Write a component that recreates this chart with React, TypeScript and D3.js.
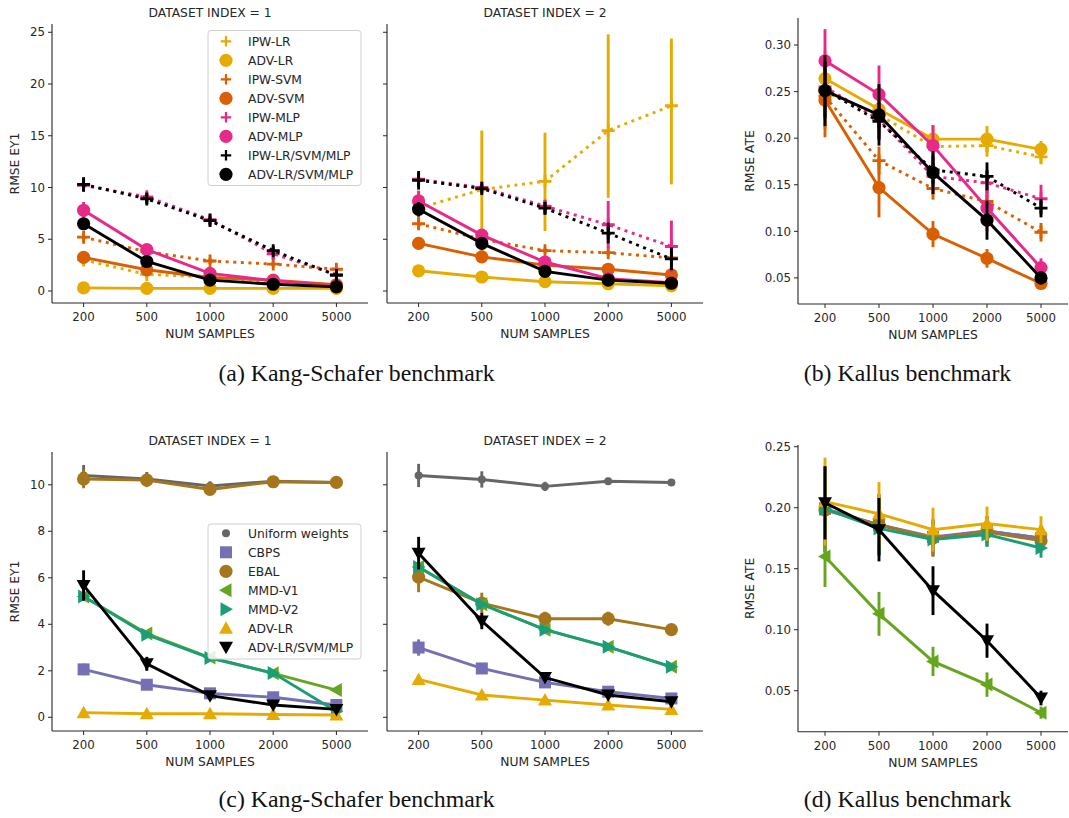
import React from 'react';
import * as d3 from 'd3';

// ---------- categories & ticks ----------
const SAMPLES = ['200', '500', '1000', '2000', '5000'];
const TICKS_A = [0, 5, 10, 15, 20, 25];
const TICKS_B = [0.05, 0.1, 0.15, 0.2, 0.25, 0.3];
const TICKS_C = [0, 2, 4, 6, 8, 10];
const TICKS_D = [0.05, 0.1, 0.15, 0.2, 0.25];

// ---------- panel (a), dataset 1 ----------
const A1_IPW_LR = [3.0, 1.6, 1.35, 0.9, 0.5];
const A1_IPW_LR_ERR = [0.4, 0.3, 0.2, 0.15, 0.1];
const A1_ADV_LR = [0.3, 0.25, 0.25, 0.25, 0.25];
const A1_ADV_LR_ERR = [0.1, 0.05, 0.05, 0.05, 0.05];
const A1_IPW_SVM = [5.2, 3.8, 2.9, 2.6, 2.1];
const A1_IPW_SVM_ERR = [0.4, 0.3, 0.3, 0.3, 0.2];
const A1_ADV_SVM = [3.25, 2.05, 1.3, 1.05, 0.6];
const A1_ADV_SVM_ERR = [0.3, 0.2, 0.1, 0.1, 0.05];
const A1_IPW_MLP = [10.2, 9.1, 6.9, 3.6, 1.6];
const A1_IPW_MLP_ERR = [0.5, 0.4, 0.4, 0.5, 0.3];
const A1_ADV_MLP = [7.8, 4.0, 1.7, 1.0, 0.5];
const A1_ADV_MLP_ERR = [0.8, 0.4, 0.2, 0.1, 0.05];
const A1_IPW_ALL = [10.3, 8.9, 6.8, 3.9, 1.5];
const A1_IPW_ALL_ERR = [0.7, 0.5, 0.4, 0.4, 0.5];
const A1_ADV_ALL = [6.5, 2.85, 1.05, 0.65, 0.4];
const A1_ADV_ALL_ERR = [0.5, 0.3, 0.1, 0.1, 0.05];

// ---------- panel (a), dataset 2 ----------
const A2_IPW_LR = [8.0, 9.8, 10.6, 15.5, 17.9];
const A2_IPW_LR_LO = [6.8, 3.5, 5.8, 9.0, 10.3];
const A2_IPW_LR_HI = [9.2, 15.5, 15.3, 24.8, 24.4];
const A2_ADV_LR = [1.95, 1.35, 0.9, 0.7, 0.5];
const A2_ADV_LR_ERR = [0.15, 0.1, 0.05, 0.05, 0.05];
const A2_IPW_SVM = [6.5, 5.0, 3.9, 3.7, 3.2];
const A2_IPW_SVM_ERR = [0.5, 0.4, 0.3, 0.3, 0.2];
const A2_ADV_SVM = [4.6, 3.3, 2.5, 2.1, 1.55];
const A2_ADV_SVM_ERR = [0.3, 0.2, 0.15, 0.1, 0.1];
const A2_IPW_MLP = [10.8, 10.0, 8.2, 6.4, 4.3];
const A2_IPW_MLP_ERR = [0.5, 0.5, 0.6, 2.3, 2.5];
const A2_ADV_MLP = [8.7, 5.4, 2.8, 1.2, 0.8];
const A2_ADV_MLP_ERR = [1.0, 0.4, 0.2, 0.1, 0.05];
const A2_IPW_ALL = [10.7, 9.9, 8.0, 5.6, 3.1];
const A2_IPW_ALL_ERR = [0.9, 0.4, 0.6, 1.0, 1.1];
const A2_ADV_ALL = [7.9, 4.6, 1.9, 1.05, 0.75];
const A2_ADV_ALL_ERR = [0.7, 0.3, 0.15, 0.1, 0.05];

// ---------- panel (b) ----------
const B_IPW_LR = [0.25, 0.225, 0.191, 0.192, 0.18];
const B_IPW_LR_ERR = [0.03, 0.02, 0.015, 0.012, 0.008];
const B_ADV_LR = [0.264, 0.231, 0.199, 0.199, 0.188];
const B_ADV_LR_ERR = [0.03, 0.025, 0.015, 0.014, 0.009];
const B_IPW_SVM = [0.245, 0.176, 0.146, 0.132, 0.099];
const B_IPW_SVM_ERR = [0.035, 0.015, 0.012, 0.012, 0.01];
const B_ADV_SVM = [0.241, 0.147, 0.097, 0.071, 0.044];
const B_ADV_SVM_ERR = [0.04, 0.032, 0.014, 0.01, 0.006];
const B_IPW_MLP = [0.255, 0.22, 0.159, 0.152, 0.135];
const B_IPW_MLP_ERR = [0.03, 0.02, 0.015, 0.012, 0.015];
const B_ADV_MLP = [0.283, 0.247, 0.192, 0.125, 0.061];
const B_ADV_MLP_ERR = [0.034, 0.031, 0.022, 0.025, 0.01];
const B_IPW_ALL = [0.252, 0.218, 0.166, 0.159, 0.125];
const B_IPW_ALL_ERR = [0.03, 0.02, 0.015, 0.015, 0.01];
const B_ADV_ALL = [0.251, 0.225, 0.163, 0.112, 0.05];
const B_ADV_ALL_ERR = [0.038, 0.033, 0.023, 0.021, 0.007];

// ---------- panel (c), dataset 1 ----------
const C1_UNIF = [10.4, 10.25, 9.95, 10.15, 10.1];
const C1_UNIF_ERR = [0.45, 0.3, 0.2, 0.1, 0.05];
const C1_CBPS = [2.06, 1.4, 1.03, 0.86, 0.53];
const C1_CBPS_ERR = [0.25, 0.15, 0.1, 0.08, 0.05];
const C1_EBAL = [10.25, 10.2, 9.8, 10.13, 10.1];
const C1_EBAL_ERR = [0.4, 0.3, 0.15, 0.1, 0.05];
const C1_MMD1 = [5.2, 3.6, 2.57, 1.89, 1.17];
const C1_MMD1_ERR = [0.2, 0.1, 0.08, 0.06, 0.05];
const C1_MMD2 = [5.2, 3.55, 2.55, 1.9, 0.25];
const C1_MMD2_ERR = [0.2, 0.1, 0.08, 0.06, 0.05];
const C1_ADV_LR = [0.2, 0.15, 0.15, 0.12, 0.1];
const C1_ADV_LR_ERR = [0.05, 0.03, 0.03, 0.03, 0.02];
const C1_ADV_ALL = [5.67, 2.3, 0.93, 0.53, 0.34];
const C1_ADV_ALL_ERR = [0.65, 0.3, 0.1, 0.05, 0.04];

// ---------- panel (c), dataset 2 ----------
const C2_UNIF = [10.4, 10.23, 9.93, 10.15, 10.1];
const C2_UNIF_ERR = [0.5, 0.35, 0.2, 0.15, 0.05];
const C2_CBPS = [3.0, 2.1, 1.5, 1.1, 0.81];
const C2_CBPS_ERR = [0.35, 0.2, 0.15, 0.1, 0.08];
const C2_EBAL = [6.03, 4.91, 4.24, 4.24, 3.77];
const C2_EBAL_ERR = [0.65, 0.45, 0.3, 0.3, 0.2];
const C2_MMD1 = [6.46, 4.86, 3.77, 3.03, 2.17];
const C2_MMD1_ERR = [0.2, 0.15, 0.1, 0.08, 0.08];
const C2_MMD2 = [6.46, 4.86, 3.77, 3.03, 2.17];
const C2_MMD2_ERR = [0.2, 0.15, 0.1, 0.08, 0.08];
const C2_ADV_LR = [1.63, 0.96, 0.74, 0.53, 0.34];
const C2_ADV_LR_ERR = [0.15, 0.08, 0.05, 0.04, 0.03];
const C2_ADV_ALL = [7.06, 4.14, 1.71, 0.96, 0.67];
const C2_ADV_ALL_ERR = [0.7, 0.35, 0.15, 0.1, 0.08];

// ---------- panel (d) ----------
const D_UNIF = [0.199, 0.186, 0.175, 0.181, 0.175];
const D_UNIF_ERR = [0.035, 0.025, 0.015, 0.012, 0.01];
const D_CBPS = [0.199, 0.186, 0.176, 0.181, 0.175];
const D_CBPS_ERR = [0.035, 0.025, 0.015, 0.012, 0.01];
const D_EBAL = [0.198, 0.186, 0.175, 0.18, 0.173];
const D_EBAL_ERR = [0.035, 0.025, 0.015, 0.012, 0.01];
const D_MMD1 = [0.16, 0.113, 0.074, 0.055, 0.032];
const D_MMD1_ERR = [0.025, 0.018, 0.012, 0.01, 0.005];
const D_MMD2 = [0.199, 0.183, 0.174, 0.178, 0.167];
const D_MMD2_ERR = [0.03, 0.022, 0.01, 0.01, 0.008];
const D_ADV_LR = [0.205, 0.195, 0.182, 0.187, 0.182];
const D_ADV_LR_ERR = [0.036, 0.026, 0.018, 0.014, 0.011];
const D_ADV_ALL = [0.204, 0.182, 0.132, 0.091, 0.044];
const D_ADV_ALL_ERR = [0.03, 0.026, 0.02, 0.014, 0.006];

// ---------- styles ----------
const GOLD = '#e6ab02';
const ORANGE = '#d95f02';
const PINK = '#e7298a';
const BLACK = '#000000';
const GRAY = '#666666';
const PURPLE = '#7570b3';
const BROWN = '#a6761d';
const GREEN = '#66a61e';
const TEAL = '#1b9e77';
const TEXT = '#262626';
const FONT = 'DejaVu Sans, Verdana, sans-serif';
const SERIF = 'Liberation Serif, Times New Roman, serif';

type Marker = 'plus' | 'circle' | 'dot' | 'square' | 'tleft' | 'tright' | 'tup' | 'tdown';
interface Style { name: string; color: string; marker: Marker; dotted: boolean }

const TOP_STYLES: Style[] = [
  { name: 'IPW-LR', color: GOLD, marker: 'plus', dotted: true },
  { name: 'ADV-LR', color: GOLD, marker: 'circle', dotted: false },
  { name: 'IPW-SVM', color: ORANGE, marker: 'plus', dotted: true },
  { name: 'ADV-SVM', color: ORANGE, marker: 'circle', dotted: false },
  { name: 'IPW-MLP', color: PINK, marker: 'plus', dotted: true },
  { name: 'ADV-MLP', color: PINK, marker: 'circle', dotted: false },
  { name: 'IPW-LR/SVM/MLP', color: BLACK, marker: 'plus', dotted: true },
  { name: 'ADV-LR/SVM/MLP', color: BLACK, marker: 'circle', dotted: false },
];
const BOTTOM_STYLES: Style[] = [
  { name: 'Uniform weights', color: GRAY, marker: 'dot', dotted: false },
  { name: 'CBPS', color: PURPLE, marker: 'square', dotted: false },
  { name: 'EBAL', color: BROWN, marker: 'circle', dotted: false },
  { name: 'MMD-V1', color: GREEN, marker: 'tleft', dotted: false },
  { name: 'MMD-V2', color: TEAL, marker: 'tright', dotted: false },
  { name: 'ADV-LR', color: GOLD, marker: 'tup', dotted: false },
  { name: 'ADV-LR/SVM/MLP', color: BLACK, marker: 'tdown', dotted: false },
];

interface SeriesData { mean: number[]; lo: number[]; hi: number[] }
const sym = (mean: number[], err: number[]): SeriesData => ({
  mean,
  lo: mean.map((m, i) => m - err[i]),
  hi: mean.map((m, i) => m + err[i]),
});

const A1 = [
  sym(A1_IPW_LR, A1_IPW_LR_ERR), sym(A1_ADV_LR, A1_ADV_LR_ERR),
  sym(A1_IPW_SVM, A1_IPW_SVM_ERR), sym(A1_ADV_SVM, A1_ADV_SVM_ERR),
  sym(A1_IPW_MLP, A1_IPW_MLP_ERR), sym(A1_ADV_MLP, A1_ADV_MLP_ERR),
  sym(A1_IPW_ALL, A1_IPW_ALL_ERR), sym(A1_ADV_ALL, A1_ADV_ALL_ERR),
];
const A2 = [
  { mean: A2_IPW_LR, lo: A2_IPW_LR_LO, hi: A2_IPW_LR_HI }, sym(A2_ADV_LR, A2_ADV_LR_ERR),
  sym(A2_IPW_SVM, A2_IPW_SVM_ERR), sym(A2_ADV_SVM, A2_ADV_SVM_ERR),
  sym(A2_IPW_MLP, A2_IPW_MLP_ERR), sym(A2_ADV_MLP, A2_ADV_MLP_ERR),
  sym(A2_IPW_ALL, A2_IPW_ALL_ERR), sym(A2_ADV_ALL, A2_ADV_ALL_ERR),
];
const B = [
  sym(B_IPW_LR, B_IPW_LR_ERR), sym(B_ADV_LR, B_ADV_LR_ERR),
  sym(B_IPW_SVM, B_IPW_SVM_ERR), sym(B_ADV_SVM, B_ADV_SVM_ERR),
  sym(B_IPW_MLP, B_IPW_MLP_ERR), sym(B_ADV_MLP, B_ADV_MLP_ERR),
  sym(B_IPW_ALL, B_IPW_ALL_ERR), sym(B_ADV_ALL, B_ADV_ALL_ERR),
];
const C1 = [
  sym(C1_UNIF, C1_UNIF_ERR), sym(C1_CBPS, C1_CBPS_ERR), sym(C1_EBAL, C1_EBAL_ERR),
  sym(C1_MMD1, C1_MMD1_ERR), sym(C1_MMD2, C1_MMD2_ERR), sym(C1_ADV_LR, C1_ADV_LR_ERR),
  sym(C1_ADV_ALL, C1_ADV_ALL_ERR),
];
const C2 = [
  sym(C2_UNIF, C2_UNIF_ERR), sym(C2_CBPS, C2_CBPS_ERR), sym(C2_EBAL, C2_EBAL_ERR),
  sym(C2_MMD1, C2_MMD1_ERR), sym(C2_MMD2, C2_MMD2_ERR), sym(C2_ADV_LR, C2_ADV_LR_ERR),
  sym(C2_ADV_ALL, C2_ADV_ALL_ERR),
];
const D = [
  sym(D_UNIF, D_UNIF_ERR), sym(D_CBPS, D_CBPS_ERR), sym(D_EBAL, D_EBAL_ERR),
  sym(D_MMD1, D_MMD1_ERR), sym(D_MMD2, D_MMD2_ERR), sym(D_ADV_LR, D_ADV_LR_ERR),
  sym(D_ADV_ALL, D_ADV_ALL_ERR),
];

function MarkerShape({ m, color, x, y, scale = 1 }: { m: Marker; color: string; x: number; y: number; scale?: number }) {
  const t = `translate(${x},${y}) scale(${scale})`;
  switch (m) {
    case 'plus':
      return <path transform={t} d="M-6.5,0H6.5M0,-6.5V6.5" stroke={color} strokeWidth={2.8} fill="none" />;
    case 'circle':
      return <circle transform={t} r={6.6} fill={color} />;
    case 'dot':
      return <circle transform={t} r={4} fill={color} />;
    case 'square':
      return <rect transform={t} x={-6} y={-6} width={12} height={12} fill={color} />;
    case 'tup':
      return <path transform={t} d="M0,-7L7,5.5L-7,5.5Z" fill={color} />;
    case 'tdown':
      return <path transform={t} d="M0,7L7,-5.5L-7,-5.5Z" fill={color} />;
    case 'tleft':
      return <path transform={t} d="M-7,0L5.5,-7L5.5,7Z" fill={color} />;
    case 'tright':
      return <path transform={t} d="M7,0L-5.5,-7L-5.5,7Z" fill={color} />;
  }
  return null;
}

interface PanelProps {
  xL: number; xR: number; yT: number; yB: number;
  domain: [number, number]; ticks: number[]; fmt: (v: number) => string;
  showTickLabels: boolean; title?: string; ylabel?: string; ylabelX?: number;
  styles: Style[]; data: SeriesData[];
}

function Panel(p: PanelProps) {
  const x = d3.scalePoint<string>().domain(SAMPLES).range([p.xL, p.xR]).padding(0.5);
  const y = d3.scaleLinear().domain(p.domain).range([p.yB, p.yT]);
  const line = d3.line<number>().x((_, i) => x(SAMPLES[i]) as number).y((d) => y(d));
  return (
    <g>
      {p.title && (
        <text x={(p.xL + p.xR) / 2} y={p.yT - 7} textAnchor="middle" fontSize={12.3} fill={TEXT} fontFamily={FONT}>
          {p.title}
        </text>
      )}
      {p.styles.map((s, k) => {
        const d = p.data[k];
        return (
          <g key={s.name + k}>
            <path d={line(d.mean) as string} fill="none" stroke={s.color} strokeWidth={2.9}
              strokeDasharray={s.dotted ? '3,4.6' : undefined} />
            {d.mean.map((_, i) => (
              <line key={i} x1={x(SAMPLES[i])} x2={x(SAMPLES[i])} y1={y(d.lo[i])} y2={y(d.hi[i])}
                stroke={s.color} strokeWidth={2.9} />
            ))}
            {d.mean.map((v, i) => (
              <MarkerShape key={'m' + i} m={s.marker} color={s.color} x={x(SAMPLES[i]) as number} y={y(v)} />
            ))}
          </g>
        );
      })}
      <line x1={p.xL} x2={p.xL} y1={p.yT} y2={p.yB} stroke={TEXT} strokeWidth={1.1} />
      <line x1={p.xL} x2={p.xR} y1={p.yB} y2={p.yB} stroke={TEXT} strokeWidth={1.1} />
      {p.ticks.map((t) => (
        <g key={t}>
          <line x1={p.xL - 4} x2={p.xL} y1={y(t)} y2={y(t)} stroke={TEXT} strokeWidth={1} />
          {p.showTickLabels && (
            <text x={p.xL - 7} y={y(t) + 4.2} textAnchor="end" fontSize={11.8} fill={TEXT} fontFamily={FONT}>
              {p.fmt(t)}
            </text>
          )}
        </g>
      ))}
      {SAMPLES.map((c) => (
        <g key={c}>
          <line x1={x(c)} x2={x(c)} y1={p.yB} y2={p.yB + 4} stroke={TEXT} strokeWidth={1} />
          <text x={x(c)} y={p.yB + 18} textAnchor="middle" fontSize={11.8} fill={TEXT} fontFamily={FONT}>
            {c}
          </text>
        </g>
      ))}
      <text x={(p.xL + p.xR) / 2} y={p.yB + 35} textAnchor="middle" fontSize={12.3} fill={TEXT} fontFamily={FONT}>
        NUM SAMPLES
      </text>
      {p.ylabel && (
        <text transform={`translate(${p.ylabelX},${(p.yT + p.yB) / 2}) rotate(-90)`} textAnchor="middle"
          fontSize={12.3} fill={TEXT} fontFamily={FONT}>
          {p.ylabel}
        </text>
      )}
    </g>
  );
}

function Legend({ x0, y0, w, h, styles, firstY }: { x0: number; y0: number; w: number; h: number; styles: Style[]; firstY: number }) {
  return (
    <g>
      <rect x={x0} y={y0} width={w} height={h} rx={3} fill="#ffffff" fillOpacity={0.85} stroke="#d0d0d0" strokeWidth={1} />
      {styles.map((s, i) => {
        const yy = firstY + i * 19;
        return (
          <g key={s.name}>
            <MarkerShape m={s.marker} color={s.color} x={x0 + 18} y={yy} scale={s.marker === 'plus' ? 0.8 : 1} />
            <text x={x0 + 40} y={yy + 4.3} fontSize={12.3} fill={TEXT} fontFamily={FONT}>{s.name}</text>
          </g>
        );
      })}
    </g>
  );
}

const f0 = (v: number) => d3.format('d')(v);
const f2 = (v: number) => d3.format('.2f')(v);

export default function App() {
  return (
    <svg width={1069} height={818} style={{ position: 'absolute', left: 0, top: 0, background: '#fff' }}>
      <rect x={0} y={0} width={1069} height={818} fill="#fff" />
      <Panel xL={52} xR={368} yT={24} yB={303} domain={[-1.16, 25.8]} ticks={TICKS_A} fmt={f0}
        showTickLabels title="DATASET INDEX = 1" ylabel="RMSE EY1" ylabelX={18.5} styles={TOP_STYLES} data={A1} />
      <Panel xL={387} xR={703} yT={24} yB={303} domain={[-1.16, 25.8]} ticks={TICKS_A} fmt={f0}
        showTickLabels={false} title="DATASET INDEX = 2" styles={TOP_STYLES} data={A2} />
      <Panel xL={798} xR={1068} yT={18} yB={304} domain={[0.022, 0.329]} ticks={TICKS_B} fmt={f2}
        showTickLabels ylabel="RMSE ATE" ylabelX={753.5} styles={TOP_STYLES} data={B} />
      <Legend x0={208} y0={30.5} w={153} h={155} styles={TOP_STYLES} firstY={41.3} />

      <Panel xL={52} xR={368} yT={452} yB={731} domain={[-0.59, 11.41]} ticks={TICKS_C} fmt={f0}
        showTickLabels title="DATASET INDEX = 1" ylabel="RMSE EY1" ylabelX={18.5} styles={BOTTOM_STYLES} data={C1} />
      <Panel xL={387} xR={703} yT={452} yB={731} domain={[-0.59, 11.41]} ticks={TICKS_C} fmt={f0}
        showTickLabels={false} title="DATASET INDEX = 2" styles={BOTTOM_STYLES} data={C2} />
      <Panel xL={798} xR={1068} yT={445} yB={731.7} domain={[0.0164, 0.2514]} ticks={TICKS_D} fmt={f2}
        showTickLabels ylabel="RMSE ATE" ylabelX={753.5} styles={BOTTOM_STYLES} data={D} />
      <Legend x0={208} y0={524} w={153} h={135} styles={BOTTOM_STYLES} firstY={533.3} />

      <text x={356.5} y={381} textAnchor="middle" fontSize={23.8} fontFamily={SERIF} fill="#111">
        (a) Kang-Schafer benchmark
      </text>
      <text x={907.5} y={381} textAnchor="middle" fontSize={23.8} fontFamily={SERIF} fill="#111">
        (b) Kallus benchmark
      </text>
      <text x={356.5} y={807} textAnchor="middle" fontSize={23.8} fontFamily={SERIF} fill="#111">
        (c) Kang-Schafer benchmark
      </text>
      <text x={907.5} y={807} textAnchor="middle" fontSize={23.8} fontFamily={SERIF} fill="#111">
        (d) Kallus benchmark
      </text>
    </svg>
  );
}
